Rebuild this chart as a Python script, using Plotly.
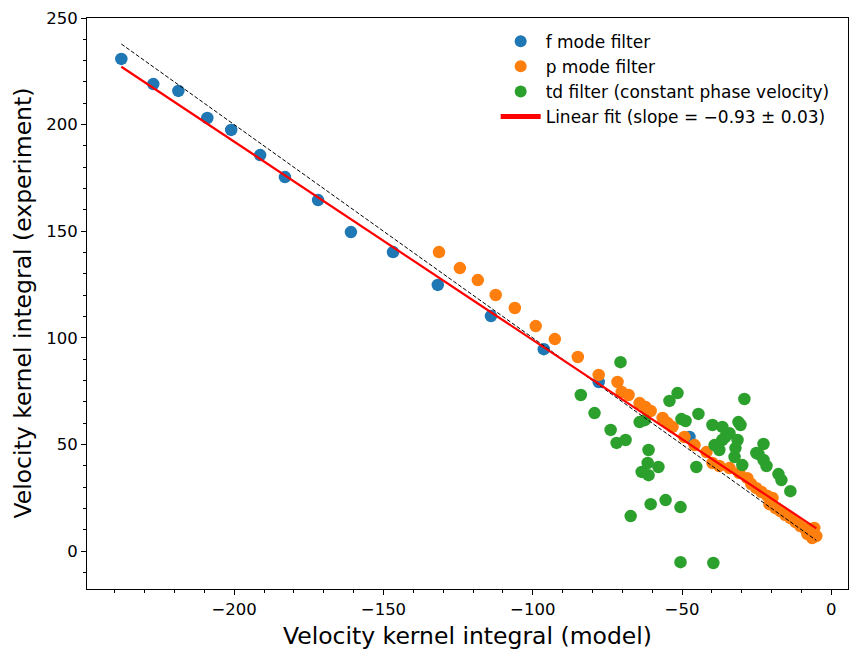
import plotly.graph_objects as go
import numpy as np

# f mode filter
f_x = [-237.8, -227.1, -218.7, -209.0, -201.0, -191.3, -183.0, -171.9, -160.9,
       -146.8, -131.8, -114.0, -96.3, -77.9, -47.5]
f_y = [230.8, 219.0, 215.8, 203.1, 197.5, 185.7, 175.4, 164.6, 149.6,
       140.2, 124.8, 110.2, 94.7, 79.3, 53.5]

# p mode filter
p_x = [-131.4, -124.4, -118.4, -112.4, -106.0, -99.0, -92.6, -84.9, -77.9, -71.6,
       -70.2, -67.9, -64.2, -62.2, -60.5, -56.5, -54.8, -53.2, -49.2, -45.8,
       -41.8, -39.8, -37.5, -34.1, -30.8, -28.1, -26.8, -25.1, -23.4, -21.4,
       -19.7, -20.7, -18.7, -17.1, -15.4, -13.7, -12.0, -10.4, -8.7, -7.4,
       -5.7, -5.0, -6.4, -8.0]
p_y = [140.2, 132.7, 127.1, 120.1, 114.0, 105.5, 99.4, 91.0, 82.6, 79.3,
       74.6, 73.2, 69.4, 67.5, 65.7, 62.4, 60.0, 58.2, 53.5, 49.7,
       46.4, 41.3, 39.9, 38.9, 36.6, 34.2, 31.4, 29.5, 27.7, 25.8,
       24.9, 22.0, 20.2, 18.8, 16.9, 15.5, 13.6, 11.7, 10.3, 8.9,
       10.8, 7.0, 6.1, 8.0]

# td filter (constant phase velocity)
td_x = [-83.9, -79.3, -70.6, -73.9, -71.9, -68.9, -64.2, -62.5, -61.2, -61.5,
        -63.5, -61.2, -57.9, -54.2, -51.5, -50.2, -48.8, -44.5, -29.1, -39.8,
        -36.5, -34.1, -31.1, -30.4, -39.1, -36.5, -37.5, -32.1, -32.4, -29.8,
        -45.2, -25.1, -22.7, -24.4, -22.7, -21.7, -17.7, -16.7, -13.7, -67.2,
        -60.5, -55.5, -50.5, -50.5, -39.5, -35.5, -31.4]
td_y = [73.2, 64.7, 88.6, 56.8, 50.7, 52.1, 60.5, 61.4, 47.4, 41.3,
        37.1, 35.6, 39.4, 70.4, 74.1, 61.9, 61.0, 64.3, 71.3, 59.1,
        58.2, 55.3, 60.5, 59.1, 49.7, 52.1, 47.4, 48.3, 44.1, 40.3,
        39.4, 46.0, 50.2, 45.5, 42.7, 39.9, 36.1, 33.3, 28.1, 16.4,
        22.0, 23.9, 20.6, -5.2, -5.6, 53.5, 52.1]

FIT_SLOPE = -0.93
FIT_INTERCEPT = 6.0
FIT_LABEL = "Linear fit (slope = \u22120.93 \u00b1 0.03)"
X_TITLE = "Velocity kernel integral (model)"
Y_TITLE = "Velocity kernel integral (experiment)"

all_x = np.array(f_x + p_x + td_x)
x_line = np.array([all_x.min(), all_x.max()])

fig = go.Figure()
msize = 12.5
fig.add_trace(go.Scatter(x=f_x, y=f_y, mode="markers", name="f mode filter",
                         marker=dict(color="#1f77b4", size=msize, line=dict(width=0))))
fig.add_trace(go.Scatter(x=p_x, y=p_y, mode="markers", name="p mode filter",
                         marker=dict(color="#ff7f0e", size=msize, line=dict(width=0))))
fig.add_trace(go.Scatter(x=td_x, y=td_y, mode="markers",
                         name="td filter (constant phase velocity)",
                         marker=dict(color="#2ca02c", size=msize, line=dict(width=0))))
fig.add_trace(go.Scatter(x=x_line, y=-x_line, mode="lines", showlegend=False,
                         line=dict(color="black", width=1, dash="4px,2px")))
fig.add_trace(go.Scatter(x=x_line, y=FIT_SLOPE * x_line + FIT_INTERCEPT, mode="lines",
                         name=FIT_LABEL, line=dict(color="red", width=2.2)))

axis_common = dict(
    showgrid=False, zeroline=False, showline=True, linecolor="black", linewidth=1,
    mirror=True, ticks="outside", ticklen=5, tickwidth=1, tickcolor="black",
    tickfont=dict(family="DejaVu Sans", size=16.5, color="black"),
    automargin=False,
)
fig.update_xaxes(range=[-249.3, 5.6], dtick=50, tick0=0,
                 minor=dict(ticks="outside", dtick=10, ticklen=3, tickcolor="black"),
                 title=dict(text=X_TITLE,
                            font=dict(family="DejaVu Sans", size=23.5, color="black")),
                 **axis_common)
fig.update_yaxes(range=[-17.8, 250.0], dtick=50, tick0=0,
                 minor=dict(ticks="outside", dtick=10, ticklen=3, tickcolor="black"),
                 **axis_common)

fig.add_annotation(text=Y_TITLE, xref="paper", yref="paper", x=-0.0854, y=0.5,
                   xanchor="center", yanchor="middle", textangle=-90, showarrow=False,
                   font=dict(family="DejaVu Sans", size=23.5, color="black"))

fig.update_layout(
    width=849, height=650,
    margin=dict(l=87, r=1, t=18, b=61),
    plot_bgcolor="white", paper_bgcolor="white",
    font=dict(family="DejaVu Sans", color="black"),
    legend=dict(x=0.537, y=0.99, xanchor="left", yanchor="top",
                bgcolor="rgba(0,0,0,0)", font=dict(size=17, family="DejaVu Sans"),
                itemsizing="constant", itemwidth=40),
)

fig.write_html("out.html", config={"displayModeBar": False},
               post_script="document.body.style.margin='0px';document.body.style.overflow='hidden';")
